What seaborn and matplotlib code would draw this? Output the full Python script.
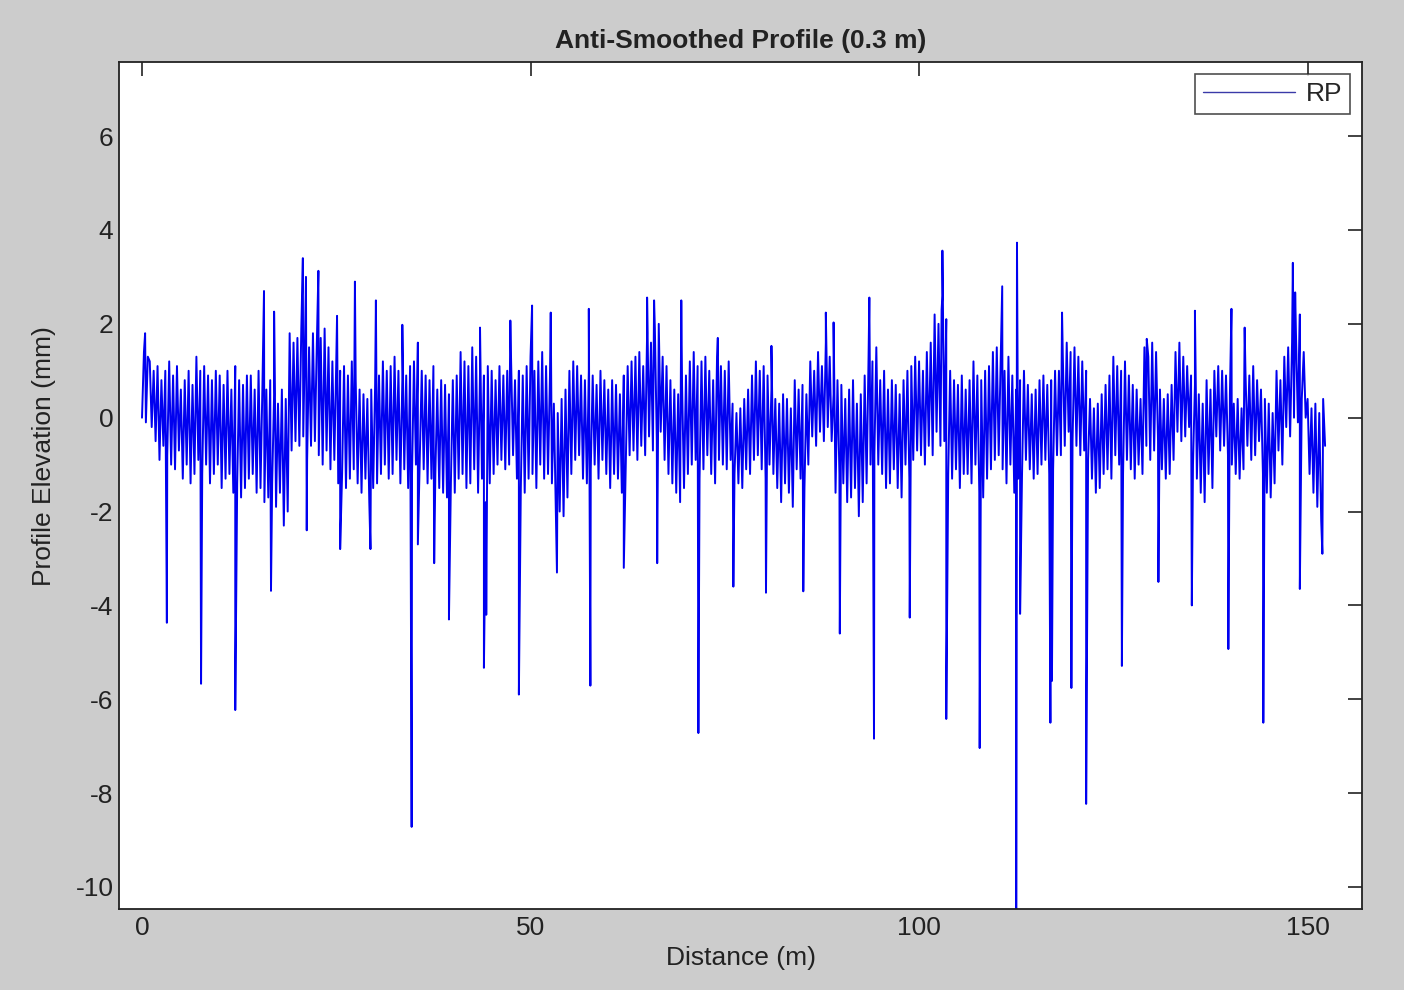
import numpy as np
import pandas as pd
import matplotlib
matplotlib.use("Agg")
import matplotlib.pyplot as plt
import seaborn as sns

# ---- data (mm), 4 samples per metre: 0.25 m spacing ----
elev = [
    0.0, 1.4, -0.1, 1.3,   1.2, -0.2, 1.0, -0.5,   1.1, -0.9, 0.8, -0.6,   1.0, -0.8, 1.2, -1.0,
    0.9, -1.1, 1.1, -0.7,  0.6, -1.3, 0.8, -1.0,   1.0, -1.4, 0.7, -1.2,   1.3, -0.9, 1.0, -1.2,
    1.1, -1.0, 0.9, -1.4,  0.8, -1.2, 1.0, -1.0,   0.9, -1.5, 0.7, -1.3,   1.0, -1.2, 0.6, -1.6,
    1.1, -1.4, 0.8, -1.7,  0.7, -1.5, 0.9, -1.3,   0.9, -1.2, 0.6, -1.6,   1.0, -1.5, 0.7, -1.8,
    0.6, -1.7, 0.8, -1.4,  0.5, -1.9, 0.3, -1.6,   0.6, -2.3, 0.4, -2.0,   1.8, -0.7, 1.6, -0.5,
    1.7, -0.6, 1.9, -0.4,  1.9, -0.9, 1.5, -0.6,   1.8, -0.5, 1.6, -0.8,   1.7, -1.0, 1.9, -0.7,
    1.5, -1.1, 1.2, -0.9,  1.2, -1.4, 1.0, -1.2,   1.1, -1.5, 0.9, -1.3,   1.2, -1.1, 0.8, -1.4,
    0.6, -1.6, 0.5, -1.3,  0.4, -1.8, 0.6, -1.5,   0.7, -1.4, 0.9, -1.2,   1.2, -1.0, 1.0, -1.3,
    1.1, -1.2, 1.3, -0.9,  1.0, -1.4, 0.8, -1.1,   0.9, -1.5, 1.1, -1.2,   1.2, -1.0, 1.6, -0.8,
    1.0, -1.1, 0.9, -1.4,  0.8, -1.3, 1.1, -1.2,   0.6, -1.5, 0.8, -1.6,   0.7, -1.7, 0.5, -1.4,
    0.8, -1.6, 0.9, -1.3,  1.4, -1.2, 1.2, -1.5,   1.1, -1.4, 1.5, -1.1,   1.3, -1.6, 1.0, -1.3,
    0.9, -1.8, 1.1, -1.4,  1.0, -1.2, 0.8, -1.0,   1.1, -0.9, 0.9, -1.1,   1.0, -1.0, 1.2, -0.8,
    0.8, -1.3, 1.0, -1.5,  0.9, -1.6, 1.1, -1.3,   1.3, -1.2, 1.0, -1.5,   1.2, -1.0, 1.4, -1.3,
    1.1, -1.2, 0.9, -1.4,  0.3, -1.9, 0.1, -2.0,   0.4, -2.1, 0.6, -1.7,   1.0, -1.2, 1.2, -0.9,
    1.1, -0.8, 0.9, -1.3,  0.8, -1.4, 1.0, -1.1,   0.9, -1.0, 0.7, -1.3,   1.0, -0.9, 0.8, -1.2,
    0.6, -1.5, 0.8, -1.2,  0.7, -1.3, 0.5, -1.6,   0.9, -1.0, 1.1, -0.8,   1.2, -0.7, 1.3, -0.9,
    1.4, -0.6, 1.1, -0.8,  1.8, -0.4, 1.6, -0.7,   1.9, -0.5, 2.0, -0.3,   1.3, -0.9, 1.1, -1.2,
    0.8, -1.4, 0.6, -1.6,  0.5, -1.8, 0.7, -1.5,   0.9, -1.2, 1.2, -1.0,   1.4, -0.9, 1.1, -1.3,
    1.2, -1.1, 1.3, -0.8,  1.0, -1.2, 0.8, -1.4,   1.3, -0.9, 1.1, -1.0,   1.0, -1.1, 1.2, -0.9,
    0.3, -1.2, 0.1, -1.4,  0.2, -1.5, 0.4, -1.1,   0.6, -1.2, 0.9, -0.9,   1.2, -0.8, 1.0, -1.1,
    1.1, -1.3, 0.9, -1.0,  0.6, -1.2, 0.4, -1.5,   0.3, -1.8, 0.5, -1.4,   0.4, -1.6, 0.2, -1.9,
    0.8, -1.1, 0.6, -1.3,  0.7, -1.5, 0.5, -1.0,   1.2, -0.4, 1.0, -0.6,   1.4, -0.3, 1.1, -0.5,
    1.6, -0.2, 1.3, -0.5,  0.5, -1.6, 0.8, -1.2,   0.7, -1.4, 0.4, -1.8,   0.6, -1.7, 0.8, -1.5,
    0.3, -2.1, 0.5, -1.8,  0.9, -1.4, 1.3, -1.0,   1.2, -0.8, 1.5, -1.0,   0.8, -1.2, 1.0, -1.5,
    0.6, -1.4, 0.8, -1.1,  0.7, -1.5, 0.5, -1.7,   0.8, -1.0, 1.0, -1.3,   1.1, -0.9, 1.3, -0.7,
    1.2, -0.8, 1.0, -1.0,  1.4, -0.6, 1.6, -0.8,   2.2, -0.3, 2.0, -0.6,   2.6, -0.5, 2.1, -1.2,
    1.0, -1.3, 0.8, -1.1,  0.7, -1.5, 0.9, -1.2,   0.6, -1.2, 0.8, -1.4,   1.2, -1.0, 0.9, -1.6,
    0.8, -1.7, 1.0, -1.3,  1.1, -1.1, 1.4, -0.9,   1.5, -0.8, 1.2, -1.1,   1.0, -1.4, 1.3, -1.0,
    0.9, -1.6, 0.6, -1.3,  0.8, -1.2, 1.0, -0.9,   0.7, -1.1, 0.5, -1.3,   0.6, -1.2, 0.8, -1.0,
    0.9, -0.9, 0.7, -1.2,  0.8, -1.1, 1.0, -0.8,   1.0, -0.8, 1.3, -0.6,   1.6, -0.3, 1.4, -0.5,
    1.5, -0.6, 1.3, -0.8,  1.2, -0.7, 1.0, -0.9,   0.4, -1.3, 0.2, -1.6,   0.3, -1.5, 0.5, -1.2,
    0.7, -1.1, 0.9, -1.3,  1.3, -0.8, 1.1, -1.0,   1.0, -1.2, 1.2, -0.9,   0.9, -1.1, 0.7, -1.3,
    0.6, -1.0, 0.4, -1.2,  1.5, -0.6, 1.3, -0.9,   1.6, -0.7, 1.4, -0.5,   0.6, -1.1, 0.4, -1.3,
    0.5, -1.2, 0.7, -0.9,  1.4, -0.3, 1.6, -0.5,   1.3, -0.4, 1.1, -0.2,   0.9, -1.0, 0.7, -1.3,
    0.5, -1.6, 0.3, -1.8,  0.8, -1.2, 0.6, -1.5,   1.0, -0.4, 1.1, -0.7,   1.0, -0.6, 0.9, -0.8,
    0.5, -1.0, 0.3, -1.2,  0.4, -1.3, 0.2, -1.1,   1.0, -0.6, 0.9, -0.9,   1.1, -0.8, 0.8, -0.5,
    0.6, -1.2, 0.4, -1.6,  0.3, -1.7, 0.1, -1.4,   1.0, -0.7, 0.8, -1.0,   1.3, -0.2, 1.5, -0.4,
    1.6, 0.0, 1.8, -0.1,   2.2, 0.4, 1.4, 0.0,     0.4, -1.2, 0.2, -1.6,   0.3, -1.9, 0.1, -2.2,
    0.4, -0.6,
]
step_m = 0.25

# isolated spikes (distance m, elevation mm)
spike_dist = [0.4, 3.2, 7.6, 12.0, 15.7, 16.6, 17.0, 20.7, 21.1, 21.2, 22.7, 25.1, 25.5,
              27.4, 29.4, 30.1, 33.5, 34.7, 35.5, 37.6, 39.5, 43.5, 44.0, 44.3, 47.4,
              48.5, 50.2, 52.6, 53.4, 57.5, 57.7, 62.0, 65.0, 65.9, 66.3, 69.4, 71.6,
              74.1, 76.1, 80.3, 81.0, 85.1, 88.0, 89.0, 89.8, 93.6, 94.2, 98.8, 102.9,
              103.0, 103.5, 107.8, 110.7, 112.5, 112.6, 113.0, 116.9, 117.1, 118.4,
              119.6, 121.5, 126.1, 129.3, 130.8, 135.1, 135.5, 139.8, 140.2,
              141.9, 144.3, 148.1, 148.4, 149.0, 151.9]
spike_elev = [1.8, -4.37, -5.67, -6.23, 2.7, -3.69, 2.26, 3.4, 3.0, -2.4, 3.13, 2.17, -2.8,
              2.9, -2.8, 2.5, 1.98, -8.72, -2.7, -3.1, -4.3, 1.92, -5.33, -4.2, 2.07,
              -5.9, 2.39, 2.24, -3.3, 2.32, -5.71, -3.2, 2.56, 2.5, -3.1, 2.5, -6.72,
              1.7, -3.6, -3.73, 1.53, -3.7, 2.24, 2.03, -4.6, 2.56, -6.84, -4.26, 2.3,
              3.56, -6.42, -7.04, 2.8, -10.9, 3.73, -4.18, -6.5, -5.61, 2.24,
              -5.76, -8.23, -5.29, 1.68, -3.5, -4.0, 2.28, -4.93, 2.32,
              1.92, -6.5, 3.3, 2.67, -3.65, -2.9]

x_ticks = [0, 50, 100, 150]
y_ticks = [-10, -8, -6, -4, -2, 0, 2, 4, 6]

# ---- assemble ----
base_x = np.arange(len(elev)) * step_m
df = pd.DataFrame({
    "dist": np.concatenate([base_x, np.array(spike_dist)]),
    "elev": np.concatenate([np.array(elev), np.array(spike_elev)]),
}).sort_values("dist", kind="mergesort").reset_index(drop=True)

sns.set_style("white")
plt.rcParams["font.family"] = ["Liberation Sans", "DejaVu Sans"]
plt.rcParams["axes.unicode_minus"] = False

FS = 19
fig = plt.figure(figsize=(14.04, 9.90), dpi=100, facecolor="#cccccc")
ax = fig.add_axes([119 / 1404, 1 - 909 / 990, (1362 - 119) / 1404, (909 - 62) / 990])
ax.set_facecolor("white")

sns.lineplot(data=df, x="dist", y="elev", ax=ax, color="#0000f0", linewidth=1.4,
             estimator=None, sort=False, label="RP")

ax.set_xlim(-2.96, 157.0)
ax.set_ylim(-10.47, 7.58)
ax.set_xticks(x_ticks)
ax.set_yticks(y_ticks)
ax.tick_params(direction="in", length=10, width=1.2, top=True, right=True,
               labelsize=FS, colors="#222222", pad=4)
ax.tick_params(axis="x", pad=5)
for s in ax.spines.values():
    s.set_visible(True)
    s.set_color("#222222")
    s.set_linewidth(1.3)

ax.set_title("Anti-Smoothed Profile (0.3 m)", fontsize=FS, fontweight="bold",
             color="#222222", pad=10)
ax.set_xlabel("Distance (m)", fontsize=FS, color="#222222", labelpad=4)
ax.set_ylabel("Profile Elevation (mm)", fontsize=FS, color="#222222")
ax.yaxis.set_label_coords(-0.051, 0.535)

leg = ax.legend(loc="upper right", fontsize=FS, frameon=True, fancybox=False,
                borderaxespad=0.45, handlelength=3.5, handletextpad=0.4,
                borderpad=0.3)
leg.get_frame().set_edgecolor("#222222")
leg.get_frame().set_linewidth(1.2)
for line in leg.get_lines():
    line.set_color("#3a3aa8")
    line.set_linewidth(1.0)

fig.savefig("out.png", dpi=100, facecolor=fig.get_facecolor())
